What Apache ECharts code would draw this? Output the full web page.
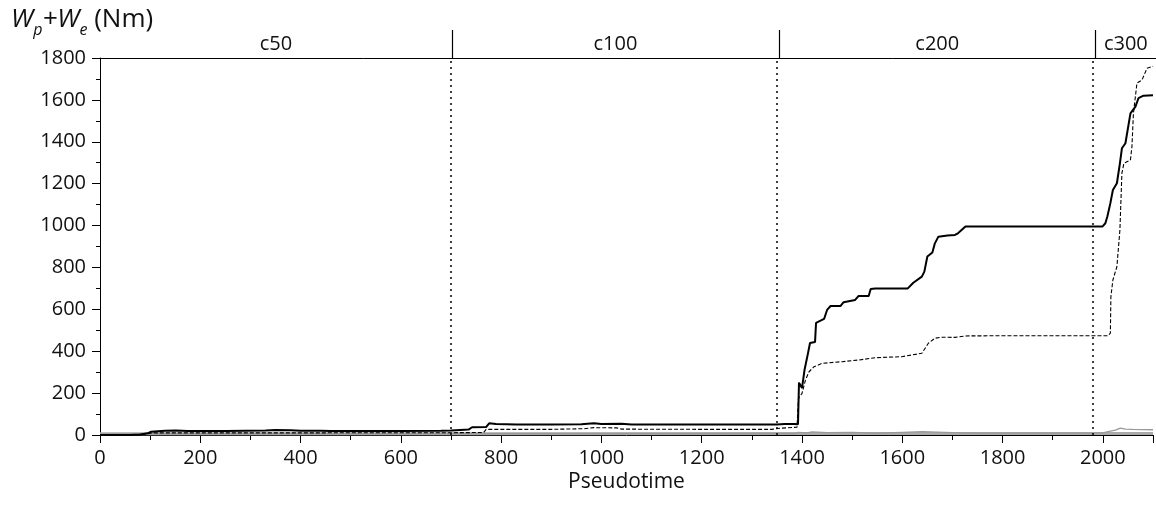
<!DOCTYPE html>
<html>
<head>
<meta charset="utf-8">
<script src="https://cdn.jsdelivr.net/npm/echarts@6/dist/echarts.min.js"></script>
<style>
html,body{margin:0;padding:0;background:#fff;}
#chart{width:1156px;height:514px;}
</style>
</head>
<body>
<div id="chart"></div>
<script>
// ---- data ----
const bandNames = ['c50', 'c100', 'c200', 'c300'];
const bandEdges = [0, 700, 1350, 1980, 2100];
const yTicks = [0, 200, 400, 600, 800, 1000, 1200, 1400, 1600, 1800];
const xTicks = [0, 200, 400, 600, 800, 1000, 1200, 1400, 1600, 1800, 2000];

const solidWork = [[0,0],[60,0],[80,2],[95,8],[102,16],[115,18],[130,20],[152,22],[175,19],[250,19],[330,21],[350,24],[380,23],[400,20],[440,20],[460,19],[600,19],[680,20],[700,22],[718,24],[735,26],[742,37],[770,38],[776,56],[790,52],[830,50],[900,50],[960,51],[985,56],[1000,52],[1040,54],[1060,50],[1200,50],[1300,50],[1350,50],[1365,52],[1385,53],[1392,51],[1394,250],[1400,224],[1405,310],[1412,391],[1416,439],[1426,444],[1428,535],[1444,554],[1450,597],[1457,616],[1477,616],[1483,634],[1506,645],[1513,664],[1533,664],[1537,697],[1546,700],[1611,700],[1622,727],[1639,756],[1644,780],[1650,852],[1660,871],[1665,915],[1672,947],[1690,952],[1705,955],[1711,963],[1726,995],[1800,995],[1900,995],[1999,995],[2005,1011],[2009,1043],[2015,1107],[2020,1170],[2028,1202],[2034,1297],[2038,1369],[2045,1393],[2055,1536],[2065,1568],[2071,1608],[2081,1620],[2100,1622]];

const dashedWork = [[0,0],[80,0],[95,6],[105,10],[300,10],[700,11],[765,12],[770,27],[900,27],[965,30],[985,35],[1030,34],[1040,28],[1200,27],[1340,27],[1360,33],[1390,37],[1393,175],[1400,199],[1407,263],[1414,302],[1424,326],[1440,342],[1480,350],[1513,358],[1546,369],[1599,374],[1639,390],[1652,438],[1665,462],[1678,467],[1705,466],[1726,473],[1800,474],[1900,474],[2010,474],[2015,486],[2016,660],[2020,740],[2028,804],[2034,979],[2038,1250],[2042,1297],[2055,1313],[2058,1377],[2061,1536],[2068,1680],[2078,1695],[2088,1751],[2100,1760]];

const grayBase = [[0,6],[700,6],[1400,7],[2100,7]];

const grayNoisy = [[0,3],[100,6],[700,7],[1388,7],[1392,13],[1410,10],[1420,15],[1450,11],[1500,13],[1550,9],[1600,13],[1640,16],[1700,11],[1760,9],[1980,9],[2002,11],[2015,19],[2025,23],[2035,33],[2045,28],[2060,27],[2080,26],[2100,25]];

// ---- chart ----
const FONT = 'Open Sans';
const chart = echarts.init(document.getElementById('chart'), null, {renderer: 'canvas'});

const bandAreas = bandNames.map((n, i) => [
  {xAxis: bandEdges[i], name: n},
  {xAxis: bandEdges[i + 1]}
]);
const dividers = bandEdges.slice(1, -1).map(v => ({xAxis: v}));

chart.setOption({
  animation: false,
  backgroundColor: '#fff',
  textStyle: {fontFamily: FONT},
  title: {
    left: 6, top: 2,
    text: '{w|W}{sub|p}{w|+W}{sub|e}{n| (Nm)}',
    textStyle: {
      fontWeight: 'normal',
      rich: {
        w: {fontFamily: FONT, fontSize: 26, fontStyle: 'italic', fontWeight: 'normal', color: '#111', lineHeight: 34, verticalAlign: 'top'},
        sub: {fontFamily: FONT, fontSize: 16, fontStyle: 'italic', fontWeight: 'normal', color: '#111', lineHeight: 34, padding: [15, 0, 0, 0], verticalAlign: 'top'},
        n: {fontFamily: FONT, fontSize: 26, fontWeight: 'normal', color: '#111', lineHeight: 34, verticalAlign: 'top'}
      }
    }
  },
  grid: [
    {left: 100, right: -3.5, top: 58, bottom: 79},
    {left: 100, right: -3.5, top: 30, height: 28}
  ],
  xAxis: [
    {
      gridIndex: 0, type: 'value', min: 0, max: 2100, interval: 200,
      name: 'Pseudotime', nameLocation: 'middle', nameGap: 37, nameMoveOverlap: false,
      nameTextStyle: {fontFamily: FONT, fontSize: 21, color: '#111', verticalAlign: 'top'},
      axisLine: {show: true, lineStyle: {color: '#000', width: 1}},
      axisTick: {show: true, length: 8, lineStyle: {color: '#000'}},
      minorTick: {show: true, splitNumber: 2, length: 5, lineStyle: {color: '#000'}},
      axisLabel: {fontFamily: FONT, fontSize: 20, color: '#111', margin: 13,
        formatter: v => xTicks.includes(v) ? String(v) : ''},
      splitLine: {show: false}
    },
    {
      gridIndex: 1, type: 'value', min: 0, max: 2100,
      axisLine: {show: true, onZero: false, lineStyle: {color: '#000', width: 1}},
      axisTick: {show: false}, axisLabel: {show: false}, splitLine: {show: false}
    }
  ],
  yAxis: [
    {
      gridIndex: 0, type: 'value', min: 0, max: 1800, interval: 200,
      axisLine: {show: true, lineStyle: {color: '#000', width: 1}},
      axisTick: {show: true, length: 8, lineStyle: {color: '#000'}},
      minorTick: {show: true, splitNumber: 2, length: 4, lineStyle: {color: '#000'}},
      axisLabel: {fontFamily: FONT, fontSize: 20, color: '#111', margin: 14,
        formatter: v => yTicks.includes(v) ? String(v) : ''},
      splitLine: {show: false}
    },
    {
      gridIndex: 1, type: 'value', min: 0, max: 1,
      axisLine: {show: false}, axisTick: {show: false}, axisLabel: {show: false}, splitLine: {show: false}
    }
  ],
  series: [
    {
      type: 'line', name: 'base', xAxisIndex: 0, yAxisIndex: 0,
      data: grayBase, showSymbol: false, symbol: 'none',
      lineStyle: {color: '#aaa', width: 3}, z: 2,
      markLine: {
        silent: true, symbol: 'none', label: {show: false},
        lineStyle: {color: '#000', type: [2, 4], width: 1.5},
        data: dividers
      }
    },
    {
      type: 'line', name: 'noisy', xAxisIndex: 0, yAxisIndex: 0,
      data: grayNoisy, showSymbol: false, symbol: 'none',
      lineStyle: {color: '#999', width: 1.3}, z: 2
    },
    {
      type: 'line', name: 'dashed', xAxisIndex: 0, yAxisIndex: 0,
      data: dashedWork, showSymbol: false, symbol: 'none',
      lineStyle: {color: '#000', width: 1.1, type: [4, 2]}, z: 3
    },
    {
      type: 'line', name: 'solid', xAxisIndex: 0, yAxisIndex: 0,
      data: solidWork, showSymbol: false, symbol: 'none',
      lineStyle: {color: '#000', width: 2}, z: 4
    },
    {
      type: 'line', name: 'bands', xAxisIndex: 1, yAxisIndex: 1,
      data: [], showSymbol: false,
      markArea: {
        silent: true,
        itemStyle: {color: 'rgba(0,0,0,0)'},
        label: {show: true, position: 'inside', fontFamily: FONT, fontSize: 20, color: '#111'},
        data: bandAreas
      },
      markLine: {
        silent: true, symbol: 'none', label: {show: false},
        lineStyle: {color: '#000', type: 'solid', width: 1.2},
        data: dividers
      }
    }
  ]
});
</script>
</body>
</html>
